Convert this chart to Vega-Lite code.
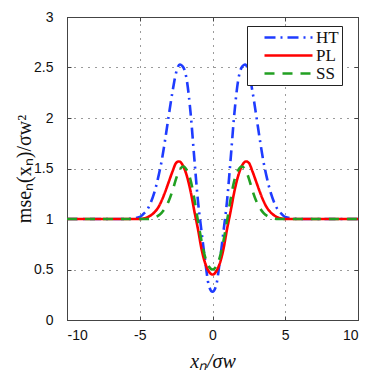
{
  "$schema": "https://vega.github.io/schema/vega-lite/v6.json",
  "width": 291,
  "height": 303,
  "autosize": {"type": "none"},
  "padding": {"left": 67, "top": 17, "right": 16, "bottom": 59},
  "background": "white",
  "config": {
    "view": {"stroke": "#444", "strokeWidth": 1},
    "axis": {
      "labelFont": "Arial",
      "labelFontSize": 14,
      "labelColor": "#111",
      "titleFont": "Liberation Serif",
      "titleFontSize": 20,
      "titleFontWeight": "normal",
      "titleColor": "#111",
      "domainColor": "#444",
      "tickColor": "#444",
      "tickSize": -4,
      "gridColor": "#222",
      "gridOpacity": 0.9,
      "gridDash": [1, 6],
      "gridWidth": 1
    },
    "legend": {"labelFont": "Liberation Serif"}
  },
  "data": {"values": [
    {"s":"HT","x":-10,"y":1.0},{"s":"HT","x":-6,"y":1.0},{"s":"HT","x":-5.5,"y":1.005},{"s":"HT","x":-5,"y":1.02},{"s":"HT","x":-4.75,"y":1.05},{"s":"HT","x":-4.5,"y":1.09},{"s":"HT","x":-4.25,"y":1.16},{"s":"HT","x":-4,"y":1.26},{"s":"HT","x":-3.75,"y":1.4},{"s":"HT","x":-3.5,"y":1.57},{"s":"HT","x":-3.25,"y":1.79},{"s":"HT","x":-3,"y":2.03},{"s":"HT","x":-2.75,"y":2.26},{"s":"HT","x":-2.5,"y":2.45},{"s":"HT","x":-2.25,"y":2.53},{"s":"HT","x":-2,"y":2.5},{"s":"HT","x":-1.75,"y":2.36},{"s":"HT","x":-1.5,"y":2.04},{"s":"HT","x":-1.25,"y":1.6},{"s":"HT","x":-1,"y":1.18},{"s":"HT","x":-0.75,"y":0.87},{"s":"HT","x":-0.5,"y":0.58},{"s":"HT","x":-0.25,"y":0.34},{"s":"HT","x":0,"y":0.28},{"s":"HT","x":0.25,"y":0.34},{"s":"HT","x":0.5,"y":0.58},{"s":"HT","x":0.75,"y":0.87},{"s":"HT","x":1,"y":1.18},{"s":"HT","x":1.25,"y":1.6},{"s":"HT","x":1.5,"y":2.04},{"s":"HT","x":1.75,"y":2.36},{"s":"HT","x":2,"y":2.5},{"s":"HT","x":2.25,"y":2.53},{"s":"HT","x":2.5,"y":2.45},{"s":"HT","x":2.75,"y":2.26},{"s":"HT","x":3,"y":2.03},{"s":"HT","x":3.25,"y":1.79},{"s":"HT","x":3.5,"y":1.57},{"s":"HT","x":3.75,"y":1.4},{"s":"HT","x":4,"y":1.26},{"s":"HT","x":4.25,"y":1.16},{"s":"HT","x":4.5,"y":1.09},{"s":"HT","x":4.75,"y":1.05},{"s":"HT","x":5,"y":1.02},{"s":"HT","x":5.5,"y":1.005},{"s":"HT","x":6,"y":1.0},{"s":"HT","x":10,"y":1.0},
    {"s":"PL","x":-10,"y":1.0},{"s":"PL","x":-5,"y":1.0},{"s":"PL","x":-4.75,"y":1.005},{"s":"PL","x":-4.5,"y":1.015},{"s":"PL","x":-4.25,"y":1.035},{"s":"PL","x":-4,"y":1.065},{"s":"PL","x":-3.75,"y":1.11},{"s":"PL","x":-3.5,"y":1.18},{"s":"PL","x":-3.25,"y":1.27},{"s":"PL","x":-3,"y":1.37},{"s":"PL","x":-2.75,"y":1.47},{"s":"PL","x":-2.5,"y":1.555},{"s":"PL","x":-2.3,"y":1.57},{"s":"PL","x":-2,"y":1.52},{"s":"PL","x":-1.75,"y":1.42},{"s":"PL","x":-1.5,"y":1.27},{"s":"PL","x":-1.25,"y":1.08},{"s":"PL","x":-1,"y":0.9},{"s":"PL","x":-0.75,"y":0.7},{"s":"PL","x":-0.5,"y":0.56},{"s":"PL","x":-0.25,"y":0.48},{"s":"PL","x":0,"y":0.45},{"s":"PL","x":0.25,"y":0.48},{"s":"PL","x":0.5,"y":0.56},{"s":"PL","x":0.75,"y":0.7},{"s":"PL","x":1,"y":0.9},{"s":"PL","x":1.25,"y":1.08},{"s":"PL","x":1.5,"y":1.27},{"s":"PL","x":1.75,"y":1.42},{"s":"PL","x":2,"y":1.52},{"s":"PL","x":2.3,"y":1.57},{"s":"PL","x":2.5,"y":1.555},{"s":"PL","x":2.75,"y":1.47},{"s":"PL","x":3,"y":1.37},{"s":"PL","x":3.25,"y":1.27},{"s":"PL","x":3.5,"y":1.18},{"s":"PL","x":3.75,"y":1.11},{"s":"PL","x":4,"y":1.065},{"s":"PL","x":4.25,"y":1.035},{"s":"PL","x":4.5,"y":1.015},{"s":"PL","x":4.75,"y":1.005},{"s":"PL","x":5,"y":1.0},{"s":"PL","x":10,"y":1.0},
    {"s":"SS","x":-10,"y":1.0},{"s":"SS","x":-4.5,"y":1.0},{"s":"SS","x":-4,"y":1.015},{"s":"SS","x":-3.75,"y":1.03},{"s":"SS","x":-3.5,"y":1.06},{"s":"SS","x":-3.25,"y":1.11},{"s":"SS","x":-3,"y":1.18},{"s":"SS","x":-2.75,"y":1.28},{"s":"SS","x":-2.5,"y":1.4},{"s":"SS","x":-2.25,"y":1.49},{"s":"SS","x":-2,"y":1.52},{"s":"SS","x":-1.75,"y":1.48},{"s":"SS","x":-1.5,"y":1.38},{"s":"SS","x":-1.25,"y":1.2},{"s":"SS","x":-1,"y":0.98},{"s":"SS","x":-0.75,"y":0.78},{"s":"SS","x":-0.5,"y":0.62},{"s":"SS","x":-0.25,"y":0.53},{"s":"SS","x":0,"y":0.5},{"s":"SS","x":0.25,"y":0.53},{"s":"SS","x":0.5,"y":0.62},{"s":"SS","x":0.75,"y":0.78},{"s":"SS","x":1,"y":0.98},{"s":"SS","x":1.25,"y":1.2},{"s":"SS","x":1.5,"y":1.38},{"s":"SS","x":1.75,"y":1.48},{"s":"SS","x":2,"y":1.52},{"s":"SS","x":2.25,"y":1.49},{"s":"SS","x":2.5,"y":1.4},{"s":"SS","x":2.75,"y":1.28},{"s":"SS","x":3,"y":1.18},{"s":"SS","x":3.25,"y":1.11},{"s":"SS","x":3.5,"y":1.06},{"s":"SS","x":3.75,"y":1.03},{"s":"SS","x":4,"y":1.015},{"s":"SS","x":4.5,"y":1.0},{"s":"SS","x":10,"y":1.0}
  ]},
  "layer": [
    {
      "mark": {"type": "line", "strokeWidth": 2.6, "interpolate": "monotone", "clip": true},
      "encoding": {
        "x": {"field": "x", "type": "quantitative",
              "scale": {"domain": [-10, 10], "nice": false, "zero": false},
              "axis": {"values": [-10, -5, 0, 5, 10], "title": "xₙ/σw", "titleFontStyle": "italic",
                       "labelPadding": 12, "labelExpr": "replace(datum.label, '\u2212', '-')",
                       "titleX": 145.5, "titleY": 31, "titleBaseline": "top", "titleAnchor": "middle"}},
        "y": {"field": "y", "type": "quantitative",
              "scale": {"domain": [0, 3], "nice": false},
              "axis": {"values": [0, 0.5, 1, 1.5, 2, 2.5, 3], "format": "~g", "title": "mseₙ(xₙ)/σw²",
                       "labelPadding": 18,
                       "titleX": -33, "titleY": 151.5, "titleAngle": -90, "titleBaseline": "bottom", "titleAnchor": "middle"}},
        "color": {"field": "s", "type": "nominal",
                  "scale": {"domain": ["HT", "PL", "SS"], "range": ["#1f3cff", "#ff0000", "#22a022"]},
                  "legend": {"title": null, "orient": "none", "legendX": 180, "legendY": 9,
                             "fillColor": "white", "strokeColor": "#222", "padding": 3,
                             "symbolType": "M1,0L9,0", "symbolSize": 144, "symbolStrokeWidth": 2.6,
                             "labelFont": "Liberation Serif", "labelFontSize": 17, "labelColor": "#111",
                             "labelExpr": "datum.label + '\u00a0\u00a0\u00a0'",
                             "labelOffset": 49, "rowPadding": 0}},
        "strokeDash": {"field": "s", "type": "nominal",
                       "scale": {"domain": ["HT", "PL", "SS"], "range": [[11, 5, 2, 5], [1, 0], [10, 8]]},
                       "legend": null}
      }
    },
    {
      "mark": {"type": "line", "strokeOpacity": 0, "interpolate": "monotone"},
      "encoding": {
        "x": {"field": "x", "type": "quantitative",
              "axis": {"orient": "top", "values": [-10, -5, 0, 5, 10], "labels": false, "title": null, "grid": false}},
        "y": {"field": "y", "type": "quantitative",
              "axis": {"orient": "right", "values": [0, 0.5, 1, 1.5, 2, 2.5, 3], "labels": false, "title": null, "grid": false}},
        "detail": {"field": "s", "type": "nominal"}
      }
    }
  ],
  "resolve": {"axis": {"x": "independent", "y": "independent"}}
}
